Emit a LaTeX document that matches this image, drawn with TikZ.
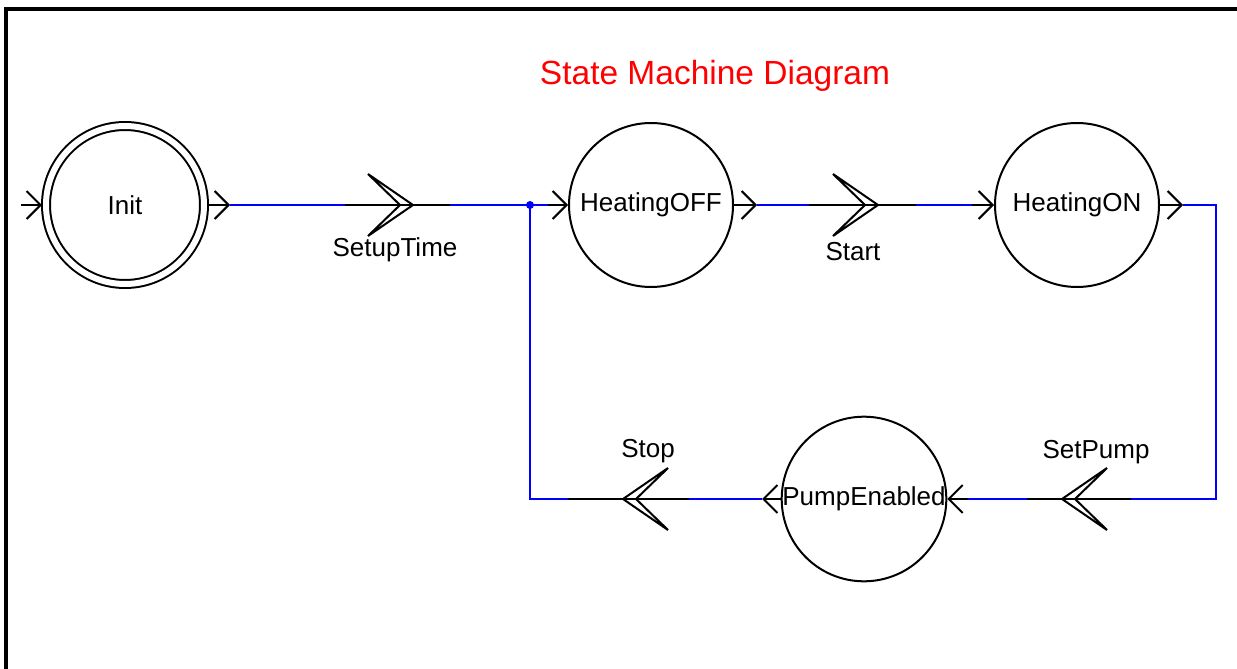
\documentclass[tikz,border=0pt]{standalone}
\usepackage{fontspec}
\setmainfont{Liberation Sans}
\usetikzlibrary{arrows.meta}

\begin{document}
\begin{tikzpicture}[x=1pt,y=-1pt,line width=2pt,
        >={Straight Barb[length=14pt,width=28pt]},
        state/.style={circle,draw,minimum size=164pt,inner sep=0pt,font=\fontsize{26}{30}\selectfont},
        lbl/.style={font=\fontsize{26}{30}\selectfont},
        wire/.style={blue},
        chev/.pic={\draw[black] (0,0)--(-45,-31)--(-13,0)--(-45,31)--cycle;},
        ]
        \useasboundingbox (0,0) rectangle (1237,669);
        \draw[line width=4pt] (6.3,669) -- (6.3,9.5) -- (1237,9.5);
        \node[red,font=\fontsize{33.5}{40}\selectfont] (title) at (715,76) {State Machine Diagram};
        % states
        \node[state,double,double distance=6pt,minimum size=158pt,outer sep=4pt] (init) at (125,205) {Init};
        \node[state] (heatoff) at (651,205) {HeatingOFF};
        \node[state] (heaton) at (1077,205) {HeatingON};
        \node[state] (pump) at (864,499) {PumpEnabled};
        % labels
        \node[lbl] (setup) at (395,250) {SetupTime};
        \node[lbl] (start) at (853,252) {Start};
        \node[lbl] (setpump) at (1096,452) {SetPump};
        \node[lbl] (stop) at (648,451) {Stop};
        % points on the wires
        \coordinate (in0) at (21,205);
        \coordinate (i1) at (230,205);
        \coordinate (s0) at (345,205);
        \coordinate (s1) at (450,205);
        \coordinate (j) at (530,205);
        \coordinate (h0) at (548,205);
        \coordinate (h1) at (757,205);
        \coordinate (t0) at (809,205);
        \coordinate (t1) at (916,205);
        \coordinate (t2) at (972,205);
        \coordinate (n1) at (1183,205);
        \coordinate (r0) at (1216,205);
        \coordinate (r1) at (1216,499);
        \coordinate (p0) at (1131,499);
        \coordinate (p1) at (1027,499);
        \coordinate (p2) at (968,499);
        \coordinate (q1) at (762,499);
        \coordinate (q2) at (689,499);
        \coordinate (q3) at (568,499);
        \coordinate (q4) at (530,499);
        % Init -> HeatingOFF
        \draw[->] (in0)--(init.west);
        \draw[->] (init.east)--(i1);
        \draw[wire] (i1)--(s0);
        \draw (s0)--(s1);
        \pic at (413,205) {chev};
        \draw[wire] (s1)--(j)--(h0);
        \draw[->] (h0)--(heatoff.west);
        % HeatingOFF -> HeatingON
        \draw[->] (heatoff.east)--(h1);
        \draw[wire] (h1)--(t0);
        \draw (t0)--(t1);
        \pic at (878,205) {chev};
        \draw[wire] (t1)--(t2);
        \draw[->] (t2)--(heaton.west);
        % HeatingON -> PumpEnabled
        \draw[->] (heaton.east)--(n1);
        \draw[wire] (n1)--(r0)--(r1)--(p0);
        \draw (p0)--(p1);
        \pic[rotate=180] at (1062,499) {chev};
        \draw[wire] (p1)--(p2);
        \draw[->] (p2)--(pump.east);
        % PumpEnabled -> HeatingOFF
        \draw[->] (pump.west)--(q1);
        \draw[wire] (q1)--(q2);
        \draw (q2)--(q3);
        \pic[rotate=180] at (623,499) {chev};
        \draw[wire] (q3)--(q4)--(j);
        \fill[blue] (j) circle (4pt);
    \end{tikzpicture}
\end{document}
